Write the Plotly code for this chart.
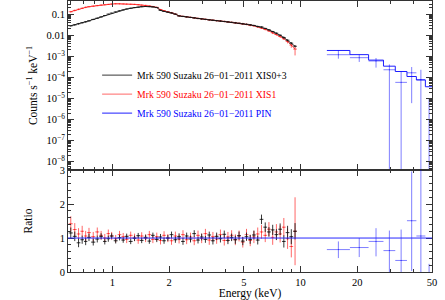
import numpy as np
import plotly.graph_objects as go
from plotly.subplots import make_subplots

# XIS spectra (bin centres, keV)
energy = [0.60, 0.63, 0.66, 0.69, 0.72, 0.75, 0.79, 0.83, 0.87, 0.91,
          0.95, 0.99, 1.04, 1.09, 1.14, 1.19, 1.25, 1.31, 1.37, 1.43,
          1.50, 1.57, 1.64, 1.72, 1.80, 1.88, 1.97, 2.06, 2.16, 2.26,
          2.37, 2.48, 2.60, 2.72, 2.85, 2.98, 3.12, 3.27, 3.42, 3.58,
          3.75, 3.93, 4.11, 4.30, 4.50, 4.71, 4.93, 5.16, 5.40, 5.65,
          5.92, 6.20, 6.49, 6.79, 7.11, 7.44, 7.79, 8.15, 8.53, 8.93, 9.35]

xis03_counts = [0.028, 0.031, 0.035, 0.039, 0.043, 0.048, 0.056, 0.064, 0.074, 0.086,
                0.10, 0.112, 0.128, 0.145, 0.16, 0.175, 0.19, 0.205, 0.215, 0.225,
                0.23, 0.228, 0.22, 0.205, 0.15, 0.135, 0.125, 0.115, 0.10, 0.082,
                0.078, 0.074, 0.070, 0.066, 0.062, 0.059, 0.056, 0.053, 0.051, 0.049,
                0.047, 0.045, 0.043, 0.041, 0.039, 0.037, 0.035, 0.033, 0.031, 0.029,
                0.026, 0.025, 0.021, 0.018, 0.015, 0.0125, 0.010, 0.0078, 0.0058, 0.0042, 0.003]

xis1_counts = [0.13, 0.15, 0.17, 0.19, 0.21, 0.225, 0.24, 0.255, 0.27, 0.28,
               0.29, 0.30, 0.31, 0.31, 0.305, 0.30, 0.295, 0.29, 0.28, 0.27,
               0.26, 0.245, 0.23, 0.21, 0.165, 0.145, 0.13, 0.118, 0.10, 0.083,
               0.078, 0.074, 0.070, 0.066, 0.062, 0.059, 0.056, 0.053, 0.051, 0.049,
               0.047, 0.045, 0.043, 0.041, 0.039, 0.037, 0.035, 0.033, 0.030, 0.028,
               0.025, 0.022, 0.019, 0.016, 0.013, 0.011, 0.0088, 0.0068, 0.005, 0.0034, 0.0022]

xis03_ratio = [1.15, 1.05, 0.86, 0.95, 0.9, 1.02, 0.88, 0.97, 1.05, 0.9,
               0.98, 1.06, 0.92, 1.01, 0.94, 1.05, 0.9, 0.99, 1.07, 0.93,
               1.02, 0.91, 1.08, 0.96, 1.03, 0.92, 1.0, 1.1, 0.95, 1.04,
               0.9, 1.06, 0.97, 1.13, 0.94, 1.03, 0.96, 1.09, 0.92, 1.05,
               0.98, 1.11, 0.93, 1.02, 0.95, 1.07, 0.91, 1.04, 0.96, 1.09,
               0.94, 1.55, 1.32, 1.18, 1.24, 1.1, 1.26, 0.9, 1.16, 1.04, 1.2]
xis03_err = [0.16, 0.14, 0.13, 0.12, 0.11, 0.11, 0.10, 0.10, 0.09, 0.09,
             0.09, 0.08, 0.08, 0.08, 0.08, 0.08, 0.08, 0.08, 0.08, 0.08,
             0.08, 0.08, 0.08, 0.08, 0.09, 0.09, 0.09, 0.09, 0.09, 0.10,
             0.10, 0.10, 0.10, 0.10, 0.10, 0.10, 0.10, 0.10, 0.11, 0.11,
             0.11, 0.11, 0.11, 0.11, 0.12, 0.12, 0.12, 0.12, 0.13, 0.13,
             0.13, 0.14, 0.14, 0.14, 0.15, 0.16, 0.17, 0.18, 0.20, 0.22, 0.24]

xis1_ratio = [1.42, 1.25, 1.12, 1.2, 1.06, 1.16, 1.04, 1.18, 1.08, 1.0,
              1.13, 1.06, 0.98, 1.1, 1.04, 0.96, 1.08, 1.02, 0.94, 1.06,
              0.99, 1.1, 0.96, 1.04, 0.93, 1.08, 1.0, 0.92, 1.06, 0.97,
              1.1, 0.95, 1.03, 0.92, 1.08, 0.99, 1.13, 0.94, 1.04, 0.97,
              1.1, 0.93, 1.03, 1.08, 0.95, 1.06, 0.88, 1.1, 0.93, 1.03,
              1.12, 1.18, 1.08, 1.26, 1.02, 1.18, 1.12, 1.32, 0.98, 0.75, 1.2]
xis1_err = [0.22, 0.19, 0.17, 0.16, 0.15, 0.14, 0.14, 0.13, 0.13, 0.12,
            0.12, 0.12, 0.11, 0.11, 0.11, 0.11, 0.11, 0.11, 0.11, 0.11,
            0.11, 0.11, 0.11, 0.12, 0.12, 0.12, 0.12, 0.12, 0.13, 0.13,
            0.13, 0.13, 0.13, 0.13, 0.14, 0.14, 0.14, 0.14, 0.14, 0.14,
            0.15, 0.15, 0.15, 0.15, 0.16, 0.16, 0.16, 0.17, 0.17, 0.18,
            0.19, 0.20, 0.20, 0.21, 0.22, 0.23, 0.25, 0.27, 0.30, 0.32, 1.0]

# PIN spectrum
pin_lo = [13.8, 18.3, 23.0, 27.6, 31.9, 36.8, 41.3, 46.1]
pin_hi = [18.3, 23.0, 27.6, 31.9, 36.8, 41.3, 46.1, 50.5]
pin_model = [1.89e-3, 1.2e-3, 6.6e-4, 3.4e-4, 1.9e-4, 1.1e-4, 7.5e-5, 3.6e-5]
pin_counts = [1.19e-3, 8.6e-4, 6.0e-4, 2.3e-4, 5.8e-5, 1.65e-4, 7.9e-5, 1e-10]
pin_up = [7.0e-4, 3.4e-4, 2.3e-4, 1.8e-4, 1.3e-4, 1.45e-4, 1.5e-4, 1e-5]
pin_dn = [4.2e-4, 3.2e-4, 3.1e-4, 5e-4, 2e-4, 1.59e-4, 2e-4, 1e-5]
pin_ratio = [0.66, 0.72, 0.90, 0.63, 0.34, 1.51, 1.06, -0.5]
pin_rup = [0.24, 0.28, 0.39, 0.59, 0.91, 1.45, 2.5, 0.74]
pin_rdn = [0.25, 0.28, 0.44, 0.7, 0.4, 1.48, 1.2, 0.5]

x_major = [1, 2, 5, 10, 20, 50]
x_minor = [0.6, 0.7, 0.8, 0.9, 3, 4, 6, 7, 8, 9, 30, 40]
y_major = [1e-8, 1e-7, 1e-6, 1e-5, 1e-4, 1e-3, 0.01, 0.1]
y_labels = ["10<sup>−8</sup>", "10<sup>−7</sup>", "10<sup>−6</sup>", "10<sup>−5</sup>",
            "10<sup>−4</sup>", "10<sup>−3</sup>", "0.01", "0.1"]
y_minor = [m * 10.0 ** k for k in range(-9, 0) for m in range(2, 10)]

E = np.array(energy)
half = np.gradient(E) / 2

BLACK = "rgba(20,20,20,0.85)"
RED = "rgba(255,0,0,0.6)"
BLUE = "rgba(0,0,255,0.5)"
FONT = "Liberation Serif"

fig = make_subplots(rows=2, cols=1, shared_xaxes=True, vertical_spacing=0,
                    row_heights=[0.624, 0.376])

lab = "Mrk 590 Suzaku 26−01−2011 "
series = [
    (xis1_counts, xis1_ratio, xis1_err, RED, "<span style='color:red'>" + lab + "XIS1</span>", 2),
    (xis03_counts, xis03_ratio, xis03_err, BLACK, "<span style='color:black'>" + lab + "XIS0+3</span>", 1),
]
for cnt, rat, err, col, name, rank in series:
    c = np.array(cnt)
    e = c * np.array(err) / np.array(rat) * 0.6
    fig.add_trace(go.Scatter(x=energy, y=cnt, mode="lines", name=name, legendrank=rank,
                             line=dict(color=col, width=1),
                             error_x=dict(array=half, color=col, width=0, thickness=1),
                             error_y=dict(array=e, color=col, width=0, thickness=1)),
                  row=1, col=1)
    fig.add_trace(go.Scatter(x=energy, y=rat, mode="markers", showlegend=False,
                             marker=dict(size=1, color=col),
                             error_x=dict(array=half, color=col, width=0, thickness=1),
                             error_y=dict(array=err, color=col, width=0, thickness=1)),
                  row=2, col=1)

pin_x = [np.sqrt(a * b) for a, b in zip(pin_lo, pin_hi)]
px_plus = [b - x for b, x in zip(pin_hi, pin_x)]
px_minus = [x - a for a, x in zip(pin_lo, pin_x)]

fig.add_trace(go.Scatter(x=pin_lo + [pin_hi[-1]], y=pin_model + [pin_model[-1]],
                         mode="lines", line_shape="hv", legendrank=3,
                         line=dict(color="rgb(30,30,255)", width=1),
                         name="<span style='color:blue'>" + lab + "PIN</span>"),
              row=1, col=1)
fig.add_trace(go.Scatter(x=pin_x, y=pin_counts, mode="markers", showlegend=False,
                         marker=dict(size=1, color=BLUE),
                         error_x=dict(type="data", symmetric=False, array=px_plus,
                                      arrayminus=px_minus, color=BLUE, width=0, thickness=1),
                         error_y=dict(type="data", symmetric=False, array=pin_up,
                                      arrayminus=pin_dn, color=BLUE, width=0, thickness=1)),
              row=1, col=1)
fig.add_trace(go.Scatter(x=pin_x, y=pin_ratio, mode="markers", showlegend=False,
                         marker=dict(size=1, color=BLUE),
                         error_x=dict(type="data", symmetric=False, array=px_plus,
                                      arrayminus=px_minus, color=BLUE, width=0, thickness=1),
                         error_y=dict(type="data", symmetric=False, array=pin_rup,
                                      arrayminus=pin_rdn, color=BLUE, width=0, thickness=1)),
              row=2, col=1)
fig.add_hline(y=1, line=dict(color="rgb(40,40,255)", width=1), row=2, col=1)

axis_common = dict(showline=True, linecolor="#333", linewidth=1, mirror="allticks",
                   ticks="inside", tickcolor="#333", ticklen=6, showgrid=False,
                   zeroline=False, automargin=False,
                   tickfont=dict(size=10.5, color="black", family=FONT))
xr = [np.log10(0.58), np.log10(50)]
fig.update_xaxes(type="log", range=xr, tickmode="array", tickvals=x_major,
                 ticktext=[str(v) for v in x_major],
                 minor=dict(tickvals=x_minor, ticks="inside", ticklen=3, tickcolor="#333"),
                 **axis_common)
fig.update_xaxes(showticklabels=False, row=1, col=1)
fig.update_xaxes(title=dict(text="Energy (keV)", standoff=1,
                            font=dict(size=11.5, family=FONT, color="black")), row=2, col=1)
fig.update_yaxes(type="log", range=[np.log10(4e-9), np.log10(0.42)], tickmode="array",
                 tickvals=y_major, ticktext=y_labels,
                 minor=dict(tickvals=y_minor, ticks="inside", ticklen=3, tickcolor="#333"),
                 title=dict(text="Counts s<sup>−1</sup> keV<sup>−1</sup>", standoff=6,
                            font=dict(size=11.5, family=FONT, color="black")),
                 row=1, col=1, **axis_common)
fig.update_yaxes(range=[0, 3], tickmode="array", tickvals=[0, 1, 2, 3],
                 minor=dict(dtick=0.2, ticks="inside", ticklen=3, tickcolor="#333"),
                 title=dict(text="Ratio", standoff=24,
                            font=dict(size=11.5, family=FONT, color="black")),
                 row=2, col=1, **axis_common)

fig.update_layout(
    width=445, height=300,
    margin=dict(l=68, r=13, t=1, b=28),
    paper_bgcolor="white", plot_bgcolor="white",
    font=dict(family=FONT, color="black"),
    legend=dict(x=0.08, y=0.78, xanchor="left", yanchor="top",
                bgcolor="rgba(0,0,0,0)", font=dict(size=9.7, family=FONT),
                itemwidth=30, tracegroupgap=0),
    showlegend=True,
)

fig.write_html("out.html", config={"displayModeBar": False},
               post_script="document.body.style.margin='0px';")
